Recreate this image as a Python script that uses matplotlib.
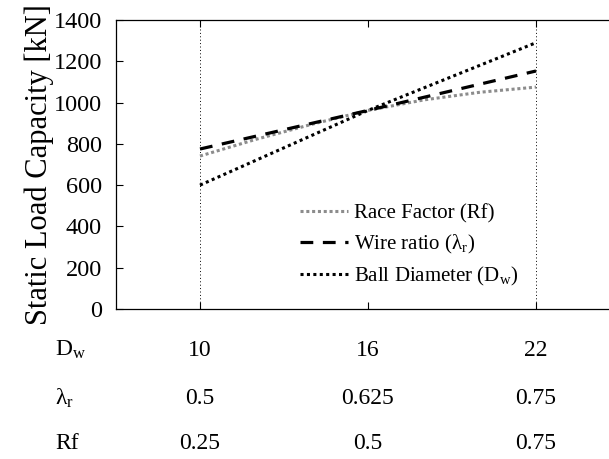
import numpy as np
import matplotlib
matplotlib.use("Agg")
import matplotlib.pyplot as plt

plt.rcParams['font.family'] = ['Liberation Serif', 'DejaVu Serif']
plt.rcParams['mathtext.fontset'] = 'custom'
plt.rcParams['mathtext.rm'] = 'Liberation Serif'
plt.rcParams['mathtext.it'] = 'Liberation Serif:italic'

# data
dw = [10, 16, 22]
lam_r = ['0.5', '0.625', '0.75']
rf = ['0.25', '0.5', '0.75']

race_x = [10, 12, 14, 16, 18, 20, 22]
race_y = [741, 822, 895, 962, 1013, 1050, 1075]
wire_y = [775, 962, 1153]
ball_y = [600, 962, 1290]

fig = plt.figure(figsize=(6.09, 4.59), dpi=100)
ax = fig.add_axes([116/609, 150/459, 504/609, 289/459])

ax.axvline(10, color='k', ls=(0, (1, 2.5)), lw=0.7)
ax.axvline(22, color='k', ls=(0, (1, 2.5)), lw=0.7)

ax.plot(race_x, race_y, color='#8c8c8c', ls=(0, (1, 0.9)), lw=2.2, label='Race Factor (Rf)')
ax.plot(dw, wire_y, color='k', ls=(0, (4, 3)), lw=2.3, label='Wire ratio (λ$_{\\mathrm{r}}$)')
ax.plot(dw, ball_y, color='k', ls=(0, (1, 1.1)), lw=2.2, label='Ball Diameter (D$_{\\mathrm{w}}$)')

ax.set_xlim(7, 25)
ax.set_ylim(0, 1400)
ax.set_yticks(np.arange(0, 1401, 200))
ax.set_xticks(dw)
ax.set_xticklabels([])
ax.tick_params(axis='both', direction='in', length=5, width=0.8, labelsize=17.5)
ax.tick_params(axis='y', pad=10)
ax.tick_params(axis='x', top=True)
ax.set_ylabel('Static Load Capacity [kN]', fontsize=22, labelpad=0)

for s in ax.spines.values():
    s.set_linewidth(0.9)

# rows of values under the axis
rows = [('D$_{\\mathrm{w}}$', [str(v) for v in dw], -0.142),
        ('λ$_{\\mathrm{r}}$', lam_r, -0.308),
        ('Rf', rf, -0.464)]
tr = ax.get_xaxis_transform()
for name, vals, yy in rows:
    ax.text(-0.121, yy, name, transform=ax.transAxes, fontsize=17, ha='left', va='center')
    for x, v in zip(dw, vals):
        ax.text(x, yy, v, transform=tr, fontsize=17, ha='center', va='center')

ax.legend(loc='upper left', bbox_to_anchor=(0.365, 0.365), frameon=False, fontsize=15,
          handlelength=2.3, handletextpad=0.3, labelspacing=0.45, borderpad=0, borderaxespad=0)

fig.savefig('out.png', dpi=100)
